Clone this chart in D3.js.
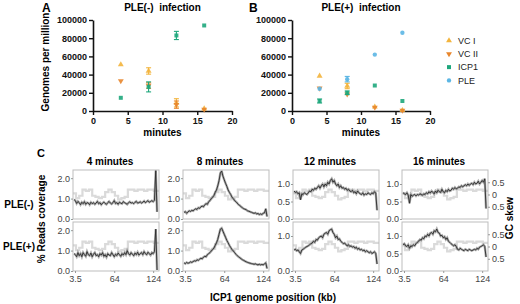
<!DOCTYPE html>
<html><head><meta charset="utf-8">
<script src="https://cdn.jsdelivr.net/npm/d3@7"></script>
<style>body{margin:0;background:#fff}svg{display:block;font-family:"Liberation Sans",Arial,sans-serif}text{white-space:pre}</style>
</head><body><svg id="c" width="520" height="304"></svg>
<script>
// ---------- data: panels A and B ----------
const times = [4, 8, 12, 16];
const xTicksAB = [0, 5, 10, 15, 20];
const yTicksAB = [0, 20000, 40000, 60000, 80000, 100000];
const seriesNames = ["VC I", "VC II", "ICP1", "PLE"];
const seriesColors = ["#f3b43c", "#e8862c", "#1ea77c", "#5cb6e4"];

const aVC1 = [51000, 44000, 9000, 2500],   aVC1Err = [600, 3500, 4500, 500];
const aVC2 = [33000, 28000, 7000, 1800],   aVC2Err = [600, 3000, 4000, 400];
const aICP1 = [14500, 26500, 83000, 94000], aICP1Err = [800, 5500, 4500, 800];

const bVC1 = [38500, 27500, 4500, 700],    bVC1Err = [600, 3000, 800, 300];
const bVC2 = [25000, 18500, 4000, 600],    bVC2Err = [600, 1500, 600, 300];
const bICP1 = [11000, 20000, 28000, 11000], bICP1Err = [2200, 2000, 600, 600];
const bPLE = [24500, 35000, 62000, 86000],  bPLEErr = [800, 3000, 600, 600];

// ---------- data: panel C ----------
const colTitles = ["4 minutes", "8 minutes", "12 minutes", "16 minutes"];
const rowTitles = ["PLE(-)", "PLE(+)"];
const genomePos = d3.range(2, 131, 2); // kb, 65 positions
const genomeTicks = [3.5, 64, 124];
const gcBinStart = [0,5,10,15,20,25,30,35,40,45,50,55,60,65,70,75,80,85,90,95,100,105,110,115,120,125,133];
const gcSkew = [0.05,-0.15,-0.05,0.2,0.15,0.2,-0.05,-0.1,-0.15,-0.1,0.1,0.2,0.1,-0.05,-0.2,-0.15,-0.1,0.2,0.2,0.15,0.2,0.2,0.15,0.2,0.2,0.15,0.15];

const cov4neg = [0.95,0.90,0.76,0.86,0.80,0.70,0.82,0.75,0.85,0.72,
 0.80,0.78,0.70,0.82,0.75,0.80,0.72,0.78,0.86,0.75,
 0.80,0.70,0.78,0.83,0.76,0.72,0.80,0.86,0.78,0.74,
 0.80,0.90,0.76,0.80,0.72,0.82,0.78,0.75,0.85,0.80,
 0.76,0.72,0.80,0.84,0.78,0.80,0.75,0.82,0.86,0.78,
 0.80,0.84,0.78,0.82,0.88,0.80,0.85,0.90,0.82,0.86,
 0.90,0.85,0.92,2.38,0.35];
const cov4pos = [0.85,0.80,0.70,0.90,0.75,0.85,0.70,0.90,0.80,0.72,
 0.95,0.80,0.75,0.88,0.70,0.82,0.90,0.75,0.80,0.70,
 0.85,0.78,0.90,0.72,0.80,0.68,0.85,0.78,0.75,0.90,
 0.80,0.70,0.82,0.76,0.88,0.80,0.72,0.85,0.78,0.90,
 0.80,1.00,0.85,0.78,0.90,0.82,0.75,0.88,0.80,0.92,
 0.78,0.85,0.90,0.80,0.95,0.85,0.80,0.92,0.85,0.78,
 0.90,0.85,0.95,2.05,0.05];
const cov8neg = [0.32,0.36,0.28,0.35,0.40,0.37,0.42,0.40,0.46,0.50,
 0.47,0.55,0.52,0.60,0.63,0.60,0.70,0.75,0.72,0.85,
 0.90,1.00,1.06,1.15,1.30,1.42,1.62,1.88,2.25,2.35,
 2.10,1.92,1.75,1.60,1.42,1.30,1.20,1.06,1.00,0.90,
 0.85,0.78,0.70,0.66,0.60,0.55,0.50,0.48,0.45,0.40,
 0.38,0.35,0.33,0.30,0.28,0.30,0.25,0.27,0.22,0.25,
 0.22,0.28,0.30,0.50,0.12];
const cov8pos = [0.40,0.36,0.42,0.38,0.40,0.45,0.42,0.46,0.50,0.48,
 0.55,0.52,0.58,0.62,0.60,0.68,0.72,0.70,0.80,0.85,
 0.90,0.98,1.05,1.12,1.25,1.38,1.55,1.80,2.05,2.10,
 1.95,1.80,1.65,1.50,1.38,1.25,1.15,1.05,0.98,0.90,
 0.82,0.75,0.70,0.65,0.60,0.55,0.52,0.48,0.45,0.42,
 0.40,0.38,0.36,0.35,0.33,0.35,0.32,0.30,0.33,0.30,
 0.32,0.30,0.35,0.40,0.12];
const cov12neg = [0.80,0.76,0.78,0.72,0.75,0.55,0.72,0.70,0.75,0.72,
 0.70,0.75,0.80,0.78,0.85,0.82,0.88,0.85,0.90,0.95,
 0.88,0.95,1.00,0.92,1.00,0.95,1.05,1.00,1.10,1.15,
 1.05,1.10,1.00,0.95,1.00,0.90,0.95,0.88,0.90,0.85,
 0.88,0.82,0.85,0.80,0.78,0.82,0.75,0.78,0.72,0.80,
 0.75,0.72,0.70,0.75,0.68,0.72,0.70,0.75,0.72,0.70,
 0.75,0.72,0.78,0.74,0.25];
const cov12pos = [0.60,0.62,0.58,0.60,0.55,0.50,0.60,0.62,0.65,0.68,
 0.70,0.72,0.75,0.78,0.80,0.85,0.82,0.90,0.88,0.95,
 0.98,1.00,0.95,1.05,1.08,1.10,1.05,1.15,1.18,1.20,
 1.10,1.05,0.95,1.00,0.90,0.92,0.85,0.82,0.78,0.80,
 0.75,0.72,0.75,0.70,0.72,0.68,0.70,0.65,0.68,0.62,
 0.65,0.60,0.62,0.58,0.60,0.55,0.58,0.55,0.52,0.55,
 0.50,0.52,0.55,0.50,0.20];
const cov16neg = [0.75,0.72,0.70,0.75,0.68,0.45,0.70,0.65,0.68,0.70,
 0.66,0.70,0.68,0.72,0.70,0.68,0.72,0.70,0.75,0.72,
 0.78,0.74,0.80,0.76,0.72,0.80,0.75,0.82,0.78,0.76,
 0.85,0.78,0.75,0.82,0.78,0.85,0.80,0.82,0.88,0.85,
 0.90,0.86,0.88,0.92,0.90,0.95,0.92,0.95,0.98,0.95,
 1.00,0.96,1.00,1.02,0.98,1.05,1.00,1.02,1.08,1.00,
 1.05,1.10,1.05,1.15,0.30];
const cov16pos = [0.75,0.78,0.72,0.70,0.75,0.65,0.72,0.70,0.75,0.72,
 0.78,0.82,0.85,0.90,0.88,0.95,0.92,1.00,0.98,1.05,
 1.00,1.08,1.10,1.05,1.15,1.12,1.20,1.10,1.08,1.00,
 1.02,0.95,0.98,0.90,0.95,0.85,0.82,0.78,0.75,0.72,
 0.75,0.70,0.62,0.60,0.65,0.62,0.60,0.58,0.62,0.60,
 0.58,0.62,0.60,0.58,0.60,0.62,0.60,0.65,0.62,0.68,
 0.70,0.72,0.75,0.70,0.40];
const coverage = [[cov4neg, cov8neg, cov12neg, cov16neg], [cov4pos, cov8pos, cov12pos, cov16pos]];

// ---------- drawing ----------
const svg = d3.select("#c");
const symbolTypes = [d3.symbolTriangle, d3.symbolTriangle, d3.symbolSquare, d3.symbolCircle];
const symbolRot = [0, 180, 0, 0];
const symbolSize = [15, 15, 16, 15];

function styleAxis(g) {
  g.select(".domain").attr("stroke", "#111").attr("stroke-width", 1.6);
  g.selectAll(".tick line").attr("stroke", "#111").attr("stroke-width", 1.4);
  g.selectAll(".tick text").attr("font-size", 9).attr("font-weight", "bold").attr("fill", "#111")
    .attr("font-family", "Liberation Sans, Arial, sans-serif");
}

function scatterPanel(xr, letter, letterX, title, series) {
  const x = d3.scaleLinear().domain([0, 20]).range(xr);
  const y = d3.scaleLinear().domain([0, 100000]).range([111, 20]);
  const gx = svg.append("g").attr("transform", "translate(0,111)")
    .call(d3.axisBottom(x).tickValues(xTicksAB).tickSize(4).tickSizeOuter(0));
  styleAxis(gx);
  const gy = svg.append("g").attr("transform", `translate(${xr[0]},0)`)
    .call(d3.axisLeft(y).tickValues(yTicksAB).tickSize(4).tickSizeOuter(0).tickFormat(d3.format("d")));
  styleAxis(gy);
  gy.selectAll(".tick text").attr("x", -6);
  svg.append("text").attr("x", letterX).attr("y", 12).attr("font-size", 12).attr("font-weight", "bold").text(letter);
  svg.append("text").attr("x", (xr[0] + xr[1]) / 2).attr("y", 11).attr("text-anchor", "middle")
    .attr("font-size", 10).attr("font-weight", "bold").text(title);
  svg.append("text").attr("x", (xr[0] + xr[1]) / 2).attr("y", 136).attr("text-anchor", "middle")
    .attr("font-size", 10).attr("font-weight", "bold").text("minutes");
  series.forEach(s => {
    const g = svg.append("g");
    times.forEach((t, i) => {
      const cx = x(t), v = s.vals[i], e = s.errs[i];
      if (e > 1500) {
        g.append("line").attr("x1", cx).attr("x2", cx).attr("y1", y(v - e)).attr("y2", y(v + e))
          .attr("stroke", s.color).attr("stroke-width", 1.1);
        [v - e, v + e].forEach(w => g.append("line").attr("x1", cx - 2.5).attr("x2", cx + 2.5)
          .attr("y1", y(w)).attr("y2", y(w)).attr("stroke", s.color).attr("stroke-width", 1.1));
      }
      g.append("path").attr("d", d3.symbol().type(symbolTypes[s.k]).size(symbolSize[s.k])())
        .attr("transform", `translate(${cx},${y(v)}) rotate(${symbolRot[s.k]})`)
        .attr("fill", s.color).attr("opacity", 0.9);
    });
  });
}

scatterPanel([93, 232], "A", 42, "PLE(-)  infection", [
  {k: 0, color: seriesColors[0], vals: aVC1, errs: aVC1Err},
  {k: 1, color: seriesColors[1], vals: aVC2, errs: aVC2Err},
  {k: 2, color: seriesColors[2], vals: aICP1, errs: aICP1Err}
]);
scatterPanel([292, 430], "B", 249, "PLE(+)  infection", [
  {k: 0, color: seriesColors[0], vals: bVC1, errs: bVC1Err},
  {k: 1, color: seriesColors[1], vals: bVC2, errs: bVC2Err},
  {k: 3, color: seriesColors[3], vals: bPLE, errs: bPLEErr},
  {k: 2, color: seriesColors[2], vals: bICP1, errs: bICP1Err}
]);
svg.append("text").attr("transform", "translate(49,62) rotate(-90)").attr("text-anchor", "middle")
  .attr("font-size", 10).attr("font-weight", "bold").text("Genomes per million");

// legend
const legY = d3.scaleBand().domain(seriesNames).range([34, 87]);
seriesNames.forEach((n, k) => {
  const cy = legY(n) + legY.bandwidth() / 2;
  svg.append("path").attr("d", d3.symbol().type(symbolTypes[k]).size(symbolSize[k])())
    .attr("transform", `translate(449,${cy}) rotate(${symbolRot[k]})`).attr("fill", seriesColors[k]);
  svg.append("text").attr("x", 458).attr("y", cy + 3.2).attr("font-size", 9).attr("fill", "#222").text(n);
});

// ---------- panel C ----------
svg.append("text").attr("x", 37).attr("y", 157).attr("font-size", 11).attr("font-weight", "bold").text("C");
const colLeft = [73, 183, 293, 402];
const rowTop = [170, 222];
const W = 86, H = 49;
const defs = svg.append("defs");
colTitles.forEach((t, c) => {
  svg.append("text").attr("x", colLeft[c] + W / 2 - 6).attr("y", 165).attr("text-anchor", "middle")
    .attr("font-size", 10).attr("font-weight", "bold").text(t);
});
rowTitles.forEach((t, r) => {
  svg.append("text").attr("x", 19).attr("y", rowTop[r] + (r === 0 ? 38 : 28)).attr("text-anchor", "middle")
    .attr("font-size", 10).attr("font-weight", "bold").text(t);
});
for (let r = 0; r < 2; r++) {
  for (let c = 0; c < 4; c++) {
    const L = colLeft[c], T = rowTop[r];
    const x = d3.scaleLinear().domain([0.4, 133]).range([L, L + W]);
    const y = d3.scaleLinear().domain([0, c < 2 ? 2.4 : 1.4]).range([T + H, T]);
    const ys = d3.scaleLinear().domain([-1, 1]).range([T + H, T]);
    const id = `clip${r}${c}`;
    defs.append("clipPath").attr("id", id).append("rect").attr("x", L).attr("y", T).attr("width", W).attr("height", H);
    const g = svg.append("g").attr("clip-path", `url(#${id})`);
    g.append("path").datum(gcBinStart.map((p, i) => [p, gcSkew[i]]))
      .attr("d", d3.line().x(d => x(d[0])).y(d => ys(d[1])).curve(d3.curveStepAfter))
      .attr("fill", "none").attr("stroke", "#dadada").attr("stroke-width", 2.2);
    const vals = coverage[r][c];
    const line = d3.line().x((d, i) => x(genomePos[i])).y(d => y(d));
    g.append("path").datum(vals).attr("d", line).attr("fill", "none").attr("stroke", "#8a8a8a")
      .attr("stroke-width", 2.4).attr("opacity", 0.7);
    g.append("path").datum(vals).attr("d", line).attr("fill", "none").attr("stroke", "#2a2a2a")
      .attr("stroke-width", 0.9);
    svg.append("rect").attr("x", L).attr("y", T).attr("width", W).attr("height", H)
      .attr("fill", "none").attr("stroke", "#bdbdbd").attr("stroke-width", 1);
    // left axis
    const ticks = c < 2 ? [0, 1, 2] : (c === 2 && r === 1 ? [0, 1] : [0, 0.5, 1]);
    const gl = svg.append("g").attr("transform", `translate(${L},0)`)
      .call(d3.axisLeft(y).tickValues(ticks).tickSize(2).tickFormat(d3.format(".1f")));
    gl.select(".domain").remove();
    gl.selectAll(".tick line").attr("stroke", "#999");
    gl.selectAll(".tick text").attr("font-size", 9).attr("fill", "#444").attr("x", -3)
      .attr("font-family", "Liberation Sans, Arial, sans-serif");
    if (r === 1) {
      const gb = svg.append("g").attr("transform", `translate(0,${T + H})`)
        .call(d3.axisBottom(x).tickValues(genomeTicks).tickSize(2).tickFormat(d => String(d)));
      gb.select(".domain").remove();
      gb.selectAll(".tick line").attr("stroke", "#999");
      gb.selectAll(".tick text").attr("font-size", 9).attr("fill", "#444").attr("y", 5)
        .attr("font-family", "Liberation Sans, Arial, sans-serif");
    }
    if (c === 3) {
      const gr = svg.append("g").attr("transform", `translate(${L + W},0)`)
        .call(d3.axisRight(ys).tickValues([-0.5, 0, 0.5]).tickSize(2).tickFormat(d => d === 0 ? "0" : String(Math.abs(d))));
      gr.select(".domain").remove();
      gr.selectAll(".tick line").attr("stroke", "#999");
      gr.selectAll(".tick text").attr("font-size", 9).attr("fill", "#444").attr("x", 4)
        .attr("font-family", "Liberation Sans, Arial, sans-serif");
    }
  }
}
svg.append("text").attr("transform", "translate(45,219) rotate(-90)").attr("text-anchor", "middle")
  .attr("font-size", 10).attr("font-weight", "bold").text("% Reads coverage");
svg.append("text").attr("transform", "translate(513,218) rotate(-90)").attr("text-anchor", "middle")
  .attr("font-size", 10).attr("font-weight", "bold").text("GC skew");
svg.append("text").attr("x", 273).attr("y", 301).attr("text-anchor", "middle")
  .attr("font-size", 10).attr("font-weight", "bold").text("ICP1 genome position (kb)");
</script></body></html>
